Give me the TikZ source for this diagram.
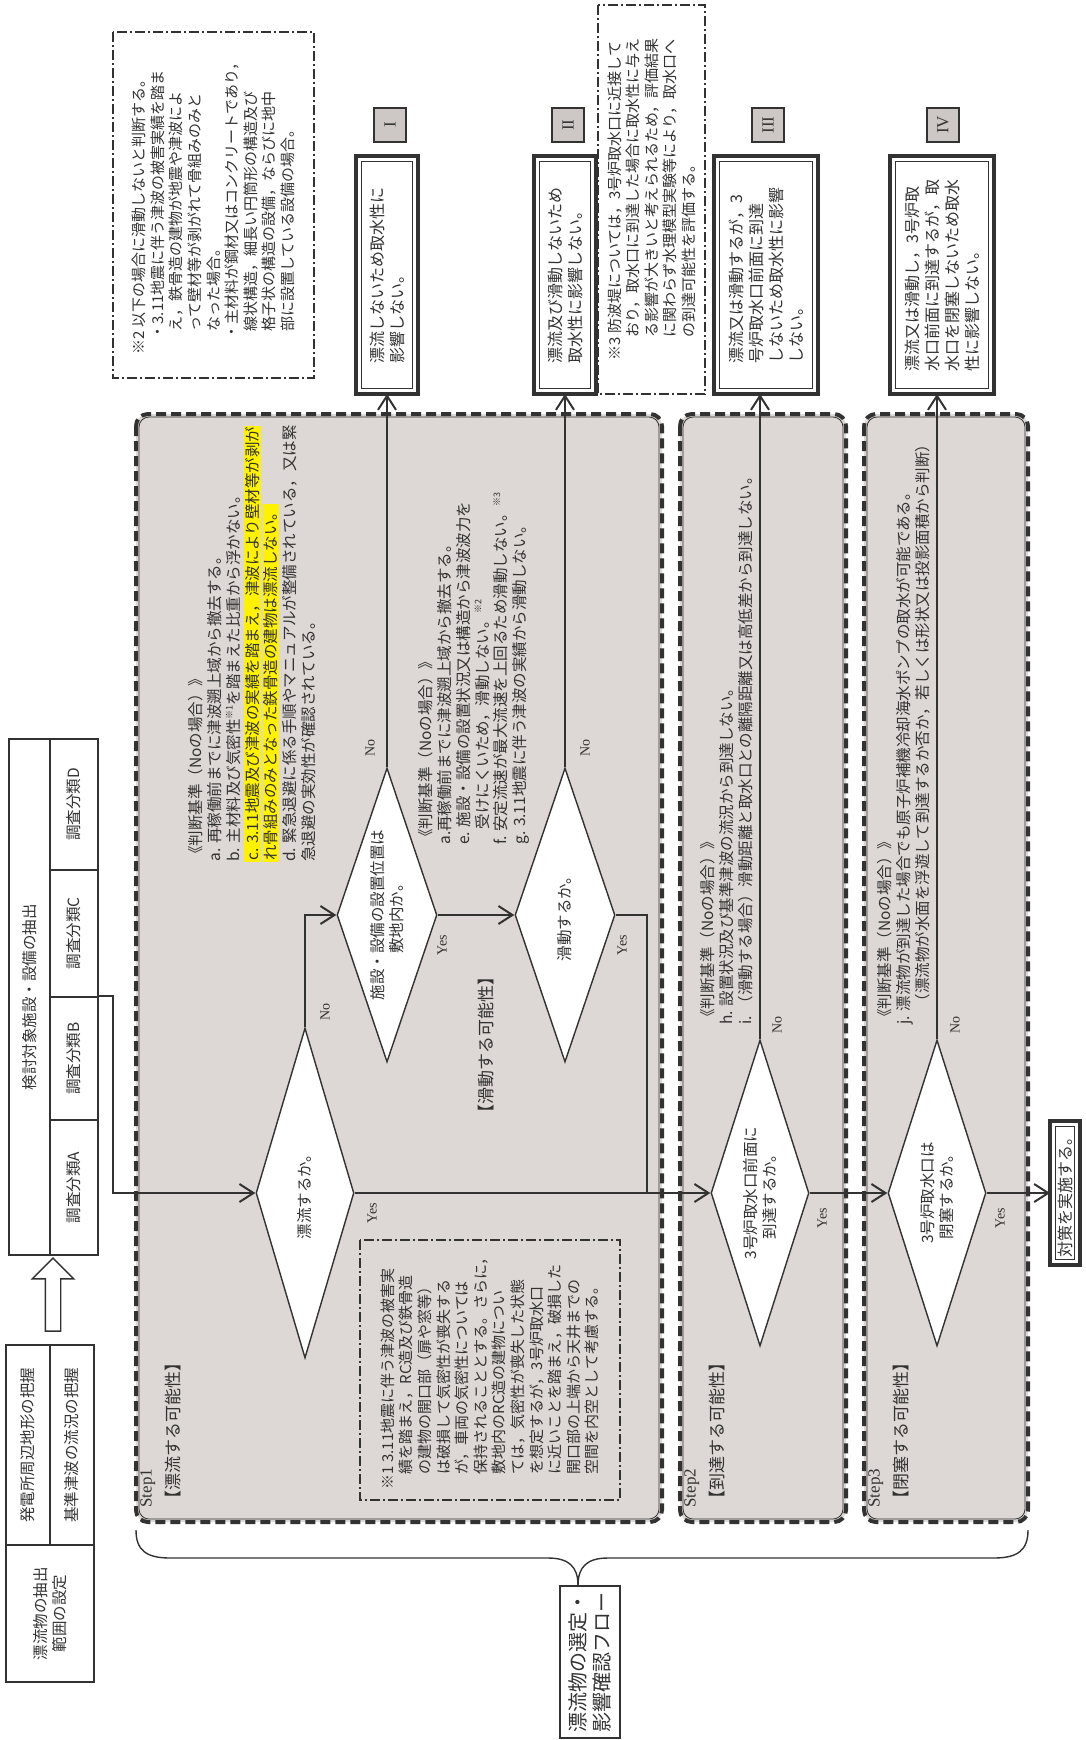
\documentclass[tikz,border=0pt]{standalone}
\usepackage{fontspec}
\setmainfont{Noto Sans CJK JP}
\newfontfamily\latinserif{Liberation Serif}
\usetikzlibrary{arrows.meta}
\usetikzlibrary{shapes.geometric}
\usetikzlibrary{shapes.arrows}
\definecolor{linegray}{RGB}{50,50,50}
\definecolor{stepgray}{RGB}{221,215,213}
\definecolor{numgray}{RGB}{205,199,197}
\definecolor{hiyellow}{RGB}{255,242,0}
\newcommand{\refmark}[1]{\raisebox{0.8ex}{\fontsize{4.5pt}{5pt}\selectfont ※#1}}
\newcommand{\hlt}[1]{{\setlength{\fboxsep}{0.4pt}\colorbox{hiyellow}{#1}}}

\begin{document}
\begin{tikzpicture}[x=0.5pt,y=-0.5pt,text=linegray]
  \tikzset{
    txt/.style={rotate=90,inner sep=0pt,align=left,anchor=north west,
      font=\fontsize{7.75pt}{9.4pt}\selectfont},
    cell/.style={draw=linegray,line width=0.7pt,rotate=90,inner sep=0pt,
      align=center,font=\fontsize{7.75pt}{9.4pt}\selectfont},
    dia/.style={diamond,draw=linegray,line width=0.7pt,fill=white,rotate=90,
      inner sep=0pt,shape aspect=3,align=center,font=\fontsize{7.75pt}{9.4pt}\selectfont},
    resbox/.style={draw=linegray,line width=1.8pt,outer sep=0pt,fill=white,rotate=90,
      align=left,font=\fontsize{8pt}{10pt}\selectfont},
    numbox/.style={draw=linegray,line width=0.6pt,fill=numgray,rotate=90,inner sep=0pt,
      minimum width=17pt,minimum height=16pt,font=\latinserif\fontsize{8.5pt}{9pt}\selectfont},
    notebox/.style={draw=linegray,line width=0.9pt,dash pattern=on 5pt off 1.5pt on 1pt off 1.5pt,
      rotate=90,inner sep=0pt,align=left,font=\fontsize{7.5pt}{9.3pt}\selectfont},
    stepbox/.style={draw=linegray,fill=stepgray,line width=2pt,dash pattern=on 5pt off 2.5pt,
      rounded corners=6pt},
    stepline/.style={draw=linegray,line width=0.4pt,rounded corners=5pt},
    yn/.style={rotate=90,inner sep=0pt,font=\latinserif\fontsize{7pt}{8pt}\selectfont},
    flow/.style={draw=linegray,line width=1pt,-{Straight Barb[length=7pt,width=9pt]}},
    link/.style={draw=linegray,line width=1pt},
    brace/.style={draw=linegray,line width=0.7pt},
  }
  \useasboundingbox (0,0) rectangle (1086,1740);

  %STEP BOXES
  \foreach \xa/\xb in {136/662,680/846,864/1028}{
    \draw[stepbox] (\xa,414) rectangle (\xb,1522);
    \draw[stepline] (\xa+3,417) rectangle (\xb-3,1519);
  }
  \node[txt,font=\fontsize{8.5pt}{14pt}\selectfont] (step1) at (140,1508) {{\latinserif Step1}\\【漂流する可能性】};
  \node[txt,font=\fontsize{8.5pt}{14pt}\selectfont] (step2) at (684,1508) {{\latinserif Step2}\\【到達する可能性】};
  \node[txt,font=\fontsize{8.5pt}{14pt}\selectfont] (step3) at (868,1508) {{\latinserif Step3}\\【閉塞する可能性】};
  \node[rotate=90,inner sep=0pt,font=\fontsize{8.5pt}{10pt}\selectfont] (slide) at (486,1045) {【滑動する可能性】};

  %TABLE
  \node[cell,minimum width=258pt,minimum height=20.5pt] (tabHead) at (29.5,997) {検討対象施設・設備の抽出};
  \node[cell,minimum width=65.5pt,minimum height=24pt] (tabD) at (74,804.5) {調査分類D};
  \node[cell,minimum width=63.5pt,minimum height=24pt] (tabC) at (74,933.5) {調査分類C};
  \node[cell,minimum width=61.5pt,minimum height=24pt] (tabB) at (74,1058.5) {調査分類B};
  \node[cell,minimum width=67.5pt,minimum height=24pt] (tabA) at (74,1187.5) {調査分類A};

  %LEFT BOXES
  \node[cell,minimum width=100pt,minimum height=22pt] (geo) at (28,1445) {発電所周辺地形の把握};
  \node[cell,minimum width=100pt,minimum height=22pt] (wave) at (72,1445) {基準津波の流況の把握};
  \node[cell,minimum width=68.5pt,minimum height=44pt] (range) at (50,1613.5) {漂流物の抽出\\範囲の設定};
  \node[single arrow,draw=linegray,line width=0.7pt,rotate=90,minimum height=36.5pt,
    inner sep=3.5pt,single arrow head extend=6.5pt] (hollow) at (53,1298.5) {};

  %CRITERIA
  \node[txt] (crit1) at (188,862) {《判断基準（Noの場合）》\\
    a. 再稼働前までに津波遡上域から撤去する。\\
    b. 主材料及び気密性\refmark{1}を踏まえた比重から浮かない。\\
    \hlt{c. 3.11地震及び津波の実績を踏まえ，津波により壁材等が剥が}\\
    \hlt{れ骨組みのみとなった鉄骨造の建物は漂流しない。}\\
    d. 緊急退避に係る手順やマニュアルが整備されている，又は緊\\
    急退避の実効性が確認されている。};
  \node[txt] (crit2) at (418,845) {《判断基準（Noの場合）》\\
    a.再稼働前までに津波遡上域から撤去する。\\
    e. 施設・設備の設置状況又は構造から津波波力を\\
    \hspace*{1em}受けにくいため，滑動しない。\refmark{2}\\
    f. 安定流速が最大流速を上回るため滑動しない。\refmark{3}\\
    g. 3.11地震に伴う津波の実績から滑動しない。};
  \node[txt] (crit3) at (700,1025) {《判断基準（Noの場合）》\\
    h. 設置状況及び基準津波の流況から到達しない。\\
    i. （滑動する場合）滑動距離と取水口との離隔距離又は高低差から到達しない。};
  \node[txt] (crit4) at (877,1025) {《判断基準（Noの場合）》\\
    j. 漂流物が到達した場合でも原子炉補機冷却海水ポンプの取水が可能である。\\
    \hspace*{1em}（漂流物が水面を浮遊して到達するか否か，若しくは形状又は投影面積から判断）};

  %DIAMONDS
  \node[dia,minimum width=165pt,minimum height=49pt] (d1) at (305,1193) {漂流するか。};
  \node[dia,minimum width=147pt,minimum height=50pt] (d2) at (387,915) {施設・設備の設置位置は\\敷地内か。};
  \node[dia,minimum width=147pt,minimum height=50pt] (d3) at (565,915) {滑動するか。};
  \node[dia,minimum width=153pt,minimum height=49pt] (ds2) at (760,1193) {3号炉取水口前面に\\到達するか。};
  \node[dia,minimum width=153pt,minimum height=49pt] (ds3) at (937,1193) {3号炉取水口は\\閉塞するか。};

  %NOTES
  \node[notebox,minimum width=130pt,minimum height=130pt] (note1) at (490,1370) {※1 3.11地震に伴う津波の被害実\\
    \hspace*{1em}績を踏まえ，RC造及び鉄骨造\\
    \hspace*{1em}の建物の開口部（扉や窓等）\\
    \hspace*{1em}は破損して気密性が喪失する\\
    \hspace*{1em}が，車両の気密性については\\
    \hspace*{1em}保持されることとする。さらに，\\
    \hspace*{1em}敷地内のRC造の建物につい\\
    \hspace*{1em}ては，気密性が喪失した状態\\
    \hspace*{1em}を想定するが，3号炉取水口\\
    \hspace*{1em}に近いことを踏まえ，破損した\\
    \hspace*{1em}開口部の上端から天井までの\\
    \hspace*{1em}空間を内空として考慮する。};
  \node[notebox,minimum width=173pt,minimum height=100.5pt] (note2) at (213.5,205) {※2 以下の場合に滑動しないと判断する。\\
    \hspace*{1em}・3.11地震に伴う津波の被害実績を踏ま\\
    \hspace*{1.5em}え，鉄骨造の建物が地震や津波によ\\
    \hspace*{1.5em}って壁材等が剥がれて骨組みのみと\\
    \hspace*{1.5em}なった場合。\\
    \hspace*{1em}・主材料が鋼材又はコンクリートであり，\\
    \hspace*{1.5em}線状構造，細長い円筒形の構造及び\\
    \hspace*{1.5em}格子状の構造の設備，ならびに地中\\
    \hspace*{1.5em}部に設置している設備の場合。};
  \node[notebox,fill=white,minimum width=194.5pt,minimum height=53.5pt] (note3) at (651.5,199.5) {※3 防波堤については，3号炉取水口に近接して\\
    \hspace*{1.5em}おり，取水口に到達した場合に取水性に与え\\
    \hspace*{1.5em}る影響が大きいと考えられるため，評価結果\\
    \hspace*{1.5em}に関わらず水理模型実験等により，取水口へ\\
    \hspace*{1.5em}の到達可能性を評価する。};

  %RESULT BOXES
  \node[resbox,minimum width=119pt,minimum height=31pt] (resI) at (387,275) {漂流しないため取水性に\\影響しない。};
  \node[resbox,minimum width=119pt,minimum height=31pt] (resII) at (565,275) {漂流及び滑動しないため\\取水性に影響しない。};
  \node[resbox,minimum width=119pt,minimum height=52pt] (resIII) at (766,275) {漂流又は滑動するが，3\\号炉取水口前面に到達\\しないため取水性に影響\\しない。};
  \node[resbox,minimum width=119pt,minimum height=52pt] (resIV) at (942,275) {漂流又は滑動し，3号炉取\\水口前面に到達するが，取\\水口を閉塞しないため取水\\性に影響しない。};
  \node[resbox,minimum width=72pt,minimum height=15pt] (final) at (1065,1193) {対策を実施する。};
  \foreach \n in {resI,resII,resIII,resIV,final}{
    \draw[linegray,line width=0.6pt] ([xshift=2.6pt,yshift=-2.6pt]\n.north east) rectangle ([xshift=-2.6pt,yshift=2.6pt]\n.south west);
  }
  \node[numbox] (numI) at (390,125) {I};
  \node[numbox] (numII) at (568,125) {II};
  \node[numbox] (numIII) at (768,125) {III};
  \node[numbox] (numIV) at (943,125) {IV};

  %CONNECTORS
  \draw[flow] (tabB.south east) -- ++(14,0) |- (d1.north);
  \draw[flow] (d1.east) |- (d2.north);
  \draw[flow] (d2.south) -- (d3.north);
  \draw[flow] (d2.east) -- (d2.east |- resI.west);
  \draw[flow] (d3.east) -- (d3.east |- resII.west);
  \coordinate (join) at (647,1193);
  \draw[link] (d3.south) -| (join);
  \draw[flow] (d1.south) -- (ds2.north);
  \draw[flow] (ds2.east) -- (ds2.east |- resIII.west);
  \draw[flow] (ds2.south) -- (ds3.north);
  \draw[flow] (ds3.east) -- (ds3.east |- resIV.west);
  \draw[flow] (ds3.south) -- (final.north);

  %YES NO
  \node[yn] (no1) at (325,1012) {No};
  \node[yn] (yes1) at (372,1213) {Yes};
  \node[yn] (no2) at (370,748) {No};
  \node[yn] (yes2) at (442,945) {Yes};
  \node[yn] (no3) at (585,748) {No};
  \node[yn] (yes3) at (622,945) {Yes};
  \node[yn] (no4) at (777,1025) {No};
  \node[yn] (yes4) at (822,1218) {Yes};
  \node[yn] (no5) at (955,1025) {No};
  \node[yn] (yes5) at (1000,1218) {Yes};

  %BRACE AND FLOW LABEL
  \node[cell,minimum width=76pt,minimum height=30pt,font=\fontsize{10pt}{12pt}\selectfont] (flowbox) at (590,1662) {漂流物の選定・\\影響確認フロー};
  \coordinate (tip) at ([xshift=-6pt]flowbox.east);
  \draw[brace] (136,1530) .. controls (136,1550) and (146,1558) .. (170,1558) -- (548,1558)
    .. controls (568,1558) and (578,1566) .. (tip);
  \draw[brace] (1028,1530) .. controls (1028,1550) and (1018,1558) .. (994,1558) -- (608,1558)
    .. controls (588,1558) and (578,1566) .. (tip);
\end{tikzpicture}
\end{document}
